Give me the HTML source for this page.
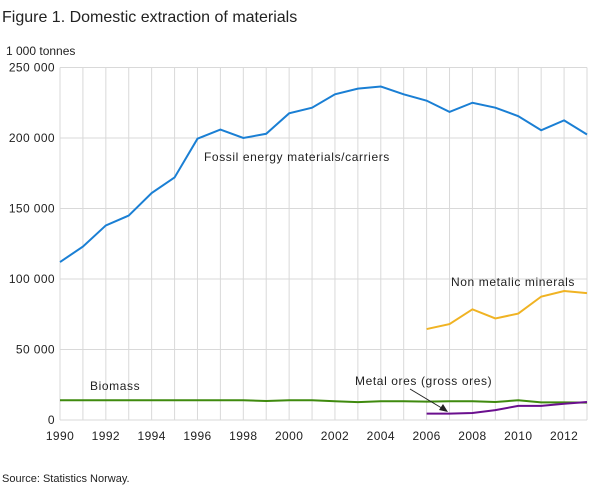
<!DOCTYPE html>
<html><head><meta charset="utf-8"><style>
body{margin:0;background:#fff;width:609px;height:489px;overflow:hidden;font-family:"Liberation Sans",sans-serif;}
svg text{font-family:"Liberation Sans",sans-serif;fill:#222;}
</style></head><body>
<svg id="c" width="609" height="489">
<text x="2" y="22" font-size="16">Figure 1. Domestic extraction of materials</text>
<text x="6" y="55" font-size="12">1 000 tonnes</text>
<text x="2" y="482" font-size="11">Source: Statistics Norway.</text>
<g id="grid"></g><g id="lines"></g><g id="labels"></g>
</svg>
<script>
const years=[1990,1991,1992,1993,1994,1995,1996,1997,1998,1999,2000,2001,2002,2003,2004,2005,2006,2007,2008,2009,2010,2011,2012,2013];
const fossil=[112000,123000,138000,145000,161000,172000,199500,206000,200000,203000,217500,221500,231000,235000,236500,231000,226500,218500,225000,221500,215500,205500,212500,202500];
const biomass=[14000,14000,14000,14000,14000,14000,14000,14000,14000,13500,14000,14000,13300,12700,13300,13300,13000,13300,13300,12800,14000,12500,12500,12300];
const nmYears=[2006,2007,2008,2009,2010,2011,2012,2013];
const nonMetallic=[64500,68000,78500,72000,75500,87500,91500,90000];
const metal=[4500,4500,5000,7000,10000,10000,11500,12800];
const yTicks=[0,50000,100000,150000,200000,250000];
const xLabels=[1990,1992,1994,1996,1998,2000,2002,2004,2006,2008,2010,2012];
const NS="http://www.w3.org/2000/svg";
const X=y=>60+(y-1990)*(527/23);
const Y=v=>420-v*(352.5/250000);
function mk(t,a,p){const e=document.createElementNS(NS,t);for(const k in a)e.setAttribute(k,a[k]);p.appendChild(e);return e;}
const g=document.getElementById('grid'),L=document.getElementById('lines'),lb=document.getElementById('labels');
const fmt=v=>v===0?"0":String(v).replace(/\B(?=(\d{3})+$)/g," ");
years.forEach(y=>{const l=mk('line',{x1:X(y),x2:X(y),y1:Y(250000),y2:420,stroke:'#d9d9d9','stroke-width':1},g);

});
yTicks.forEach(v=>{const l=mk('line',{x1:60,x2:587,y1:Y(v),y2:Y(v),stroke:'#d9d9d9','stroke-width':1},g);


const t=mk('text',{x:55,y:Y(v)+4,'text-anchor':'end','font-size':12,'letter-spacing':0.4},g);t.textContent=fmt(v);

});
xLabels.forEach(y=>{const t=mk('text',{x:X(y),y:440,'text-anchor':'middle','font-size':12,'letter-spacing':0.4},g);t.textContent=y;

});
function line(xs,vs,c,name){const p=mk('polyline',{points:xs.map((x,i)=>X(x)+','+Y(vs[i])).join(' '),fill:'none',stroke:c,'stroke-width':2},L);

}
line(years,fossil,'#1a7fd4','fossil-line');
line(years,biomass,'#3f8a0e','biomass-line');
line(nmYears,nonMetallic,'#f0b323','non-metallic-line');
line(nmYears,metal,'#6a0f8e','metal-ores-line');
function lab(x,y,s,n){const t=mk('text',{x:x,y:y,'font-size':12,'letter-spacing':0.6},lb);t.textContent=s;

}
lab(204,161,'Fossil energy materials/carriers','fossil-label');
lab(451,286,'Non metalic minerals','non-metallic-label');
lab(90,390,'Biomass','biomass-label');
lab(355,385,'Metal ores (gross ores)','metal-label');
const a=mk('line',{x1:410,y1:389,x2:445,y2:410,stroke:'#222','stroke-width':1},lb);


const h=mk('polygon',{points:'448,412 439,410 443,404',fill:'#222'},lb);


</script>
</body></html>
